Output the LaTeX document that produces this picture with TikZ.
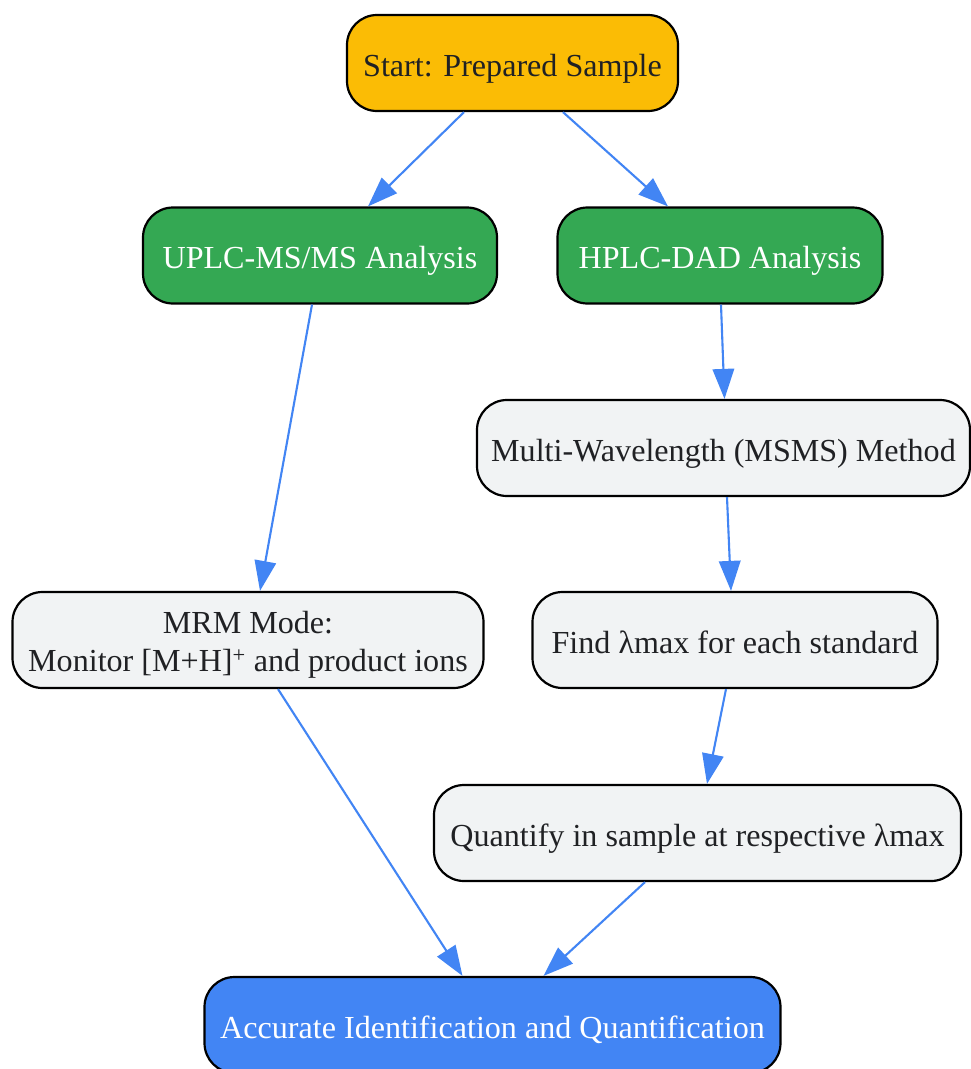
\documentclass[tikz,border=0pt]{standalone}
\usepackage{fontspec}
\setmainfont{Liberation Serif}
\usetikzlibrary{arrows.meta}
\definecolor{gyellow}{HTML}{FBBC05}
\definecolor{ggreen}{HTML}{34A853}
\definecolor{gblue}{HTML}{4285F4}
\definecolor{ggrey}{HTML}{F1F3F4}
\definecolor{gtext}{HTML}{202124}
\begin{document}
\begin{tikzpicture}[x=1pt,y=-1pt,
  boxbase/.style={draw=black, line width=2.2pt, rounded corners=30pt, minimum height=96pt,
    inner sep=0pt, font=\fontsize{32.1}{38}\selectfont, text=gtext, align=center},
  box/.style={boxbase, text height=30pt, text depth=4pt},
  startbox/.style={box, fill=gyellow},
  greenbox/.style={box, fill=ggreen, text=white},
  greybox/.style={box, fill=ggrey},
  bluebox/.style={box, fill=gblue, text=white},
  flow/.style={draw=gblue, line width=2.1pt, -{Triangle[length=30pt,width=21.5pt]}}]
\useasboundingbox (0,0) rectangle (970,1069);
\fill[white] (0,0) rectangle (970,1069);
\node[startbox, minimum width=331pt] (start) at (512.5,63) {Start: Prepared Sample};
\node[greenbox, minimum width=354pt] (uplc) at (320,255.5) {UPLC-MS/MS Analysis};
\node[greenbox, minimum width=325pt] (hplc) at (720,255.5) {HPLC-DAD Analysis};
\node[greybox, minimum width=493pt] (multi) at (723.5,448) {Multi-Wavelength (MSMS) Method};
\node[boxbase, fill=ggrey, minimum width=471pt] (mrm) at (248,640)
  {\raisebox{0pt}[\dimexpr\height+9pt\relax][\depth]{\begin{tabular}{@{}c@{}}MRM Mode:\\Monitor [M+H]\textsuperscript{+} and product ions\end{tabular}}};
\node[greybox, minimum width=405pt] (find) at (735,640) {Find λmax for each standard};
\node[greybox, minimum width=527pt] (quant) at (697.5,833) {Quantify in sample at respective λmax};
\node[bluebox, minimum width=576pt] (acc) at (492.5,1025) {Accurate Identification and Quantification};
\draw[flow] ([xshift=-48.5pt]start.south) -- ([xshift=48pt]uplc.north);
\draw[flow] ([xshift=50.5pt]start.south) -- ([xshift=-52pt]hplc.north);
\draw[flow] ([xshift=-8pt]uplc.south) -- ([xshift=12pt]mrm.north);
\draw[flow] ([xshift=1pt]hplc.south) -- ([xshift=1pt]multi.north);
\draw[flow] ([xshift=3.5pt]multi.south) -- ([xshift=-4pt]find.north);
\draw[flow] ([xshift=-9pt]find.south) -- ([xshift=9.5pt]quant.north);
\draw[flow] ([xshift=30pt]mrm.south) -- ([xshift=-30pt]acc.north);
\draw[flow] ([xshift=-52.5pt]quant.south) -- ([xshift=51pt]acc.north);
\end{tikzpicture}
\end{document}
